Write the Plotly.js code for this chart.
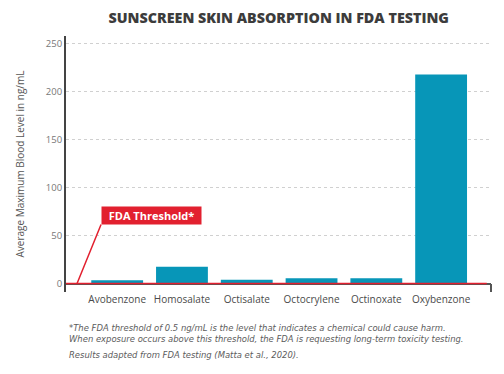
<!DOCTYPE html>
<html>
<head>
<meta charset="utf-8">
<script src="https://cdn.plot.ly/plotly-3.0.1.min.js"></script>
<style>html,body{margin:0;padding:0;background:#fff;}#chart{width:504px;height:374px;}</style>
</head>
<body>
<div id="chart"></div>
<script>
const categories = ["Avobenzone", "Homosalate", "Octisalate", "Octocrylene", "Octinoxate", "Oxybenzone"];
const bloodLevels = [4, 18, 4.5, 6, 6, 218];
const threshold = 0.5;
const yTicks = [0, 50, 100, 150, 200, 250];
const titleText = "SUNSCREEN SKIN ABSORPTION IN FDA TESTING";
const yTitle = "Average Maximum Blood Level in ng/mL";
const thresholdLabel = "FDA Threshold*";
const footnotes = [
  "*The FDA threshold of 0.5 ng/mL is the level that indicates a chemical could cause harm.",
  "When exposure occurs above this threshold, the FDA is requesting long-term toxicity testing.",
  "Results adapted from FDA testing (Matta et al., 2020)."
];

const RED = "#e2202f";
const BLUE = "#0796b8";
const FONT = "Open Sans, Lato, sans-serif";
const NOTEFONT = "DejaVu Sans, sans-serif";

const trace = {
  type: "bar",
  x: categories,
  y: bloodLevels,
  marker: {color: BLUE},
  width: 0.8,
  hoverinfo: "skip"
};

const layout = {
  width: 504, height: 374,
  margin: {l: 66, r: 13, t: 36, b: 82},
  paper_bgcolor: "#fff", plot_bgcolor: "#fff",
  showlegend: false,
  title: {
    text: titleText,
    font: {family: FONT, size: 14.3, color: "#3c3c3c", weight: 800},
    x: 0.553, xanchor: "center", y: 0.952, yanchor: "middle"
  },
  xaxis: {
    type: "category",
    range: [-0.79, 5.77],
    showgrid: false, showline: false, zeroline: false,
    ticks: "",
    tickfont: {family: FONT, size: 10, color: "#4a4a4a"},
    fixedrange: true
  },
  yaxis: {
    range: [-8.3, 258],
    tickvals: yTicks,
    ticktext: yTicks.map(String),
    showgrid: true, gridcolor: "#d0d0d0", griddash: "dot", gridwidth: 1,
    zeroline: true, zerolinecolor: "#555", zerolinewidth: 2,
    showline: true, linecolor: "#444", linewidth: 2,
    ticks: "",
    tickfont: {family: FONT, size: 9.5, color: "#777"},
    title: {text: yTitle, font: {family: FONT, size: 10, color: "#555"}, standoff: 19},
    fixedrange: true
  },
  shapes: [
    {type: "line", xref: "paper", yref: "y", x0: 0, x1: 0.99, y0: threshold, y1: threshold,
     line: {color: RED, width: 1.5}, layer: "above"},
    {type: "line", xref: "paper", yref: "y", x0: 1, x1: 1, y0: 0, y1: -8.3,
     line: {color: "#555", width: 2}}
  ],
  annotations: [
    {xref: "paper", yref: "y", x: 0.026, y: threshold,
     ax: 24, ay: -59, axref: "pixel", ayref: "pixel",
     xanchor: "left", yanchor: "bottom",
     text: "<b>" + thresholdLabel + "</b>",
     font: {family: FONT, size: 11, color: "#fff"},
     bgcolor: RED, borderpad: 2, width: 95, height: 13,
     showarrow: true, arrowhead: 0, arrowwidth: 1.5, arrowcolor: RED},
    {xref: "paper", yref: "paper", x: 0.002, y: -0.162, xanchor: "left", yanchor: "middle",
     align: "left", showarrow: false,
     text: "<i>" + footnotes[0] + "<br>" + footnotes[1] + "</i>",
     font: {family: NOTEFONT, size: 8.45, color: "#5c5c5c"}},
    {xref: "paper", yref: "paper", x: 0.002, y: -0.248, xanchor: "left", yanchor: "middle",
     align: "left", showarrow: false,
     text: "<i>" + footnotes[2] + "</i>",
     font: {family: NOTEFONT, size: 8.45, color: "#5c5c5c"}}
  ]
};

Plotly.newPlot("chart", [trace], layout, {displayModeBar: false, staticPlot: true});
</script>
</body>
</html>
